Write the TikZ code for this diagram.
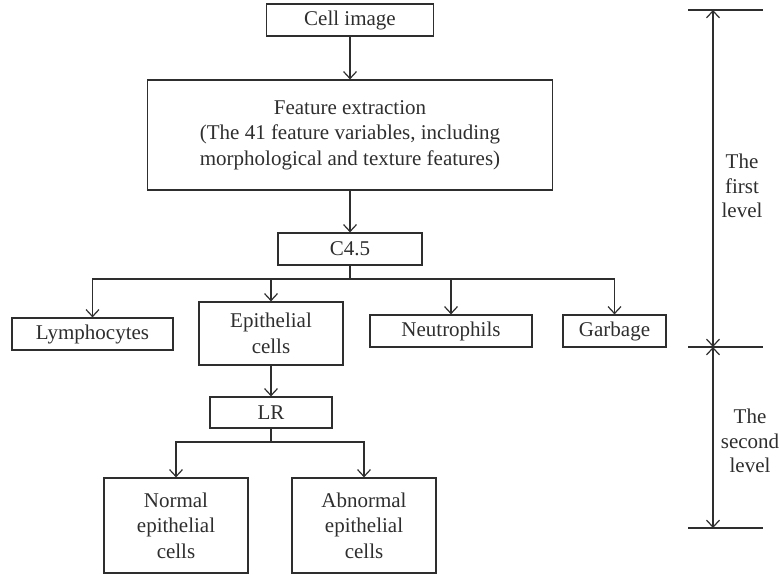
\documentclass[tikz,border=0pt]{standalone}
\usepackage{fontspec}
\setmainfont{Liberation Serif}
\usetikzlibrary{arrows.meta}
\definecolor{ink}{HTML}{2E2E2E}
\begin{document}
\begin{tikzpicture}[x=1pt,y=-1pt,
  box/.style={draw=ink, line width=1.2pt, text=ink, inner sep=0pt, align=center, font=\fontsize{21}{25.5}\selectfont},
  link/.style={draw=ink, line width=1.2pt},
  arr/.style={link, -{Straight Barb[length=7pt,width=13pt]}},
  dim/.style={link, {Straight Barb[length=7pt,width=13pt]}-{Straight Barb[length=7pt,width=13pt]}},
  lab/.style={text=ink, align=center, font=\fontsize{21}{24.5}\selectfont}]
\useasboundingbox (0,0) rectangle (781,578);
% first level
\node[box, minimum width=167pt, minimum height=32pt] (cell) at (350,20) {Cell image};
\node[box, minimum width=405pt, minimum height=110pt] (feat) at (350,135) {Feature extraction\\(The 41 feature variables, including\\morphological and texture features)};
\node[box, minimum width=144pt, minimum height=32pt] (c45) at (350,249) {C4.5};
\node[box, minimum width=161pt, minimum height=32pt] (lymph) at (92.5,334) {Lymphocytes};
\node[box, minimum width=144pt, minimum height=63pt] (epi) at (271,333.5) {Epithelial\\cells};
\node[box, minimum width=162pt, minimum height=32pt] (neut) at (451,331) {Neutrophils};
\node[box, minimum width=103pt, minimum height=32pt] (garb) at (614.5,331) {Garbage};
\path[arr] (cell) -- (feat);
\path[arr] (feat) -- (c45);
\coordinate (fork1) at (350,279);
\path[link] (c45) -- (fork1);
\path[arr] (fork1) -| (lymph);
\path[arr] (fork1) -| (epi);
\path[arr] (fork1) -| (neut);
\path[arr] (fork1) -| (garb);
% second level
\node[box, minimum width=122pt, minimum height=31pt] (lr) at (271,412.5) {LR};
\node[box, minimum width=144pt, minimum height=95pt] (normal) at (176,525.5) {Normal\\epithelial\\cells};
\node[box, minimum width=144pt, minimum height=95pt] (abnormal) at (364,525.5) {Abnormal\\epithelial\\cells};
\path[arr] (epi) -- (lr);
\coordinate (fork2) at (271,442);
\path[link] (lr) -- (fork2);
\path[arr] (fork2) -| (normal);
\path[arr] (fork2) -| (abnormal);
% level scale
\coordinate (top) at (713,10);
\coordinate (mid) at (713,347);
\coordinate (bot) at (713,528);
\path[link] ([xshift=-25pt]top) -- ([xshift=50pt]top);
\path[link] ([xshift=-25pt]mid) -- ([xshift=50pt]mid);
\path[link] ([xshift=-25pt]bot) -- ([xshift=50pt]bot);
\path[dim] (top) -- (mid);
\path[dim] (mid) -- (bot);
\node[lab] (first) at (742,186) {The\\first\\level};
\node[lab] (second) at (750,441) {The\\second\\level};
\end{tikzpicture}
\end{document}
